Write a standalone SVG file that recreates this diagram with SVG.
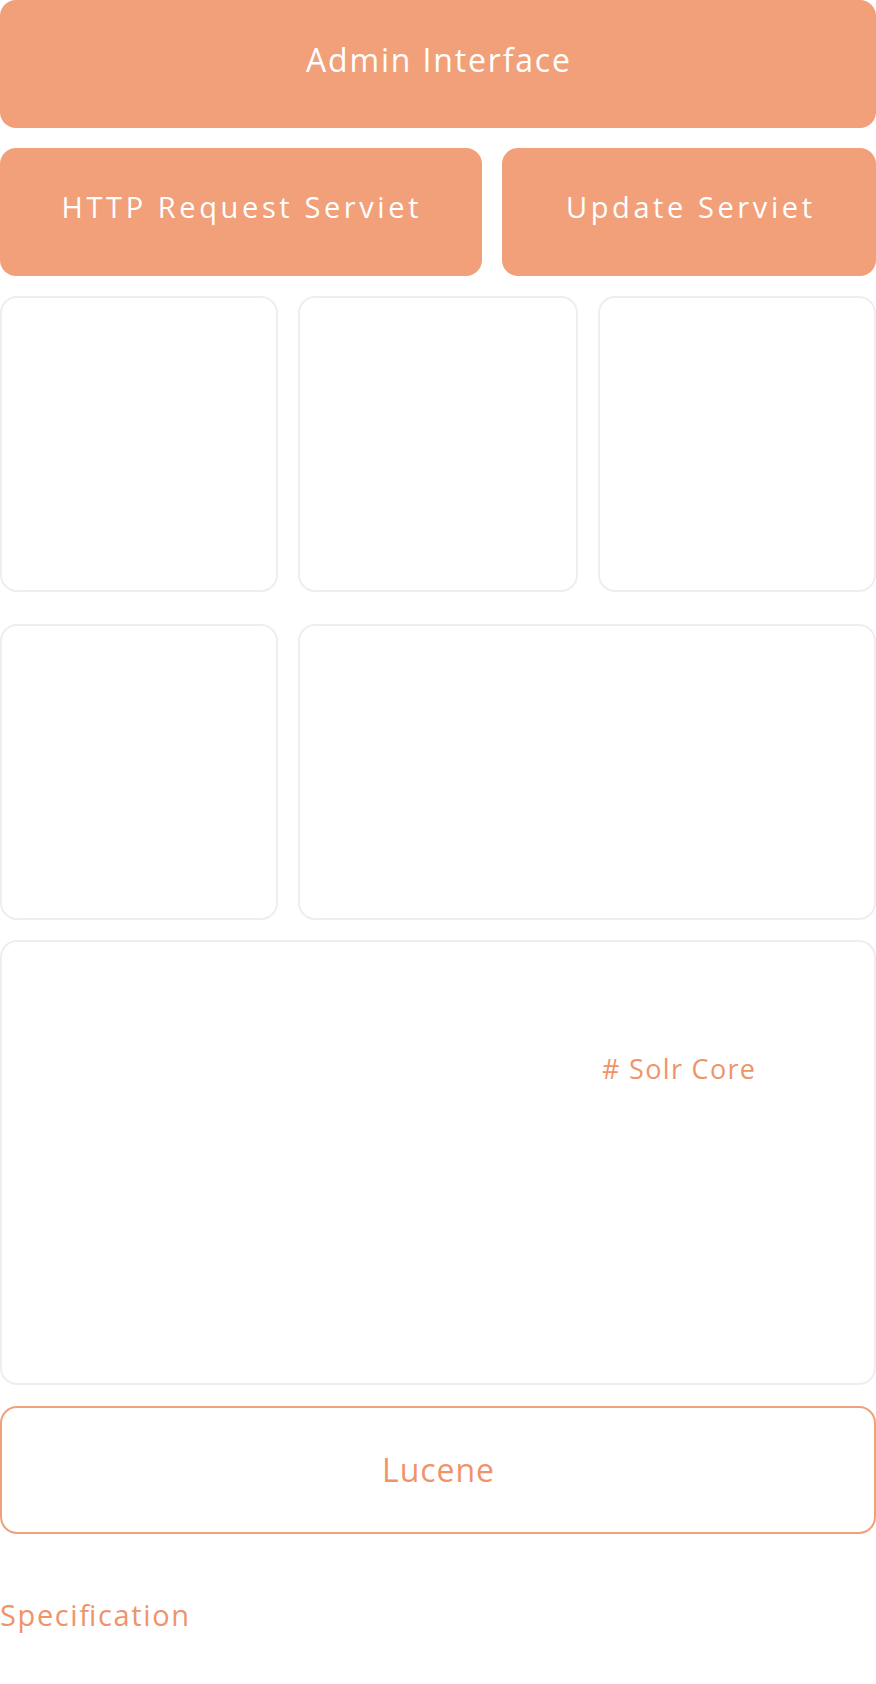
<svg xmlns="http://www.w3.org/2000/svg" width="876" height="1684" viewBox="0 0 876 1684">
<style>
.fill{fill:#F1A07A;}
.gray{fill:#FFFFFF;stroke:#EEEEEE;stroke-width:2;}
.outline{fill:#FFFFFF;stroke:#F0A07A;stroke-width:2;}
.wt{fill:#FFFFFF;font-family:"Open Sans","Noto Sans",sans-serif;text-anchor:middle;}
.ot{fill:#EF946A;font-family:"Open Sans","Noto Sans",sans-serif;}
</style>
<rect width="876" height="1684" fill="#FFFFFF"/>
<g id="admin">
<rect class="fill" x="0" y="0" width="876" height="128" rx="16"/>
<text class="wt" x="438" y="72" font-size="32" textLength="264" lengthAdjust="spacing">Admin Interface</text>
</g>
<g id="http">
<rect class="fill" x="0" y="148" width="482" height="128" rx="16"/>
<text class="wt" x="240" y="218" font-size="29" textLength="357" lengthAdjust="spacing">HTTP Request Serviet</text>
</g>
<g id="update">
<rect class="fill" x="502" y="148" width="374" height="128" rx="16"/>
<text class="wt" x="689" y="218" font-size="29" textLength="246" lengthAdjust="spacing">Update Serviet</text>
</g>
<g id="box-r1c1"><rect class="gray" x="1" y="297" width="276" height="294" rx="16"/></g>
<g id="box-r1c2"><rect class="gray" x="299" y="297" width="278" height="294" rx="16"/></g>
<g id="box-r1c3"><rect class="gray" x="599" y="297" width="276" height="294" rx="16"/></g>
<g id="box-r2c1"><rect class="gray" x="1" y="625" width="276" height="294" rx="16"/></g>
<g id="box-r2c2"><rect class="gray" x="299" y="625" width="576" height="294" rx="16"/></g>
<g id="solr-core">
<rect class="gray" x="1" y="941" width="874" height="443" rx="16"/>
<text class="ot" x="602" y="1079" font-size="27" textLength="153" lengthAdjust="spacing"># Solr Core</text>
</g>
<g id="lucene">
<rect class="outline" x="1" y="1407" width="874" height="126" rx="16"/>
<text class="ot" x="438" y="1482" font-size="32" text-anchor="middle" textLength="112" lengthAdjust="spacing">Lucene</text>
</g>
<g id="specification">
<text class="ot" x="0" y="1626" font-size="29" textLength="189" lengthAdjust="spacing">Specification</text>
</g>
<g id="connectors"></g>
</svg>
